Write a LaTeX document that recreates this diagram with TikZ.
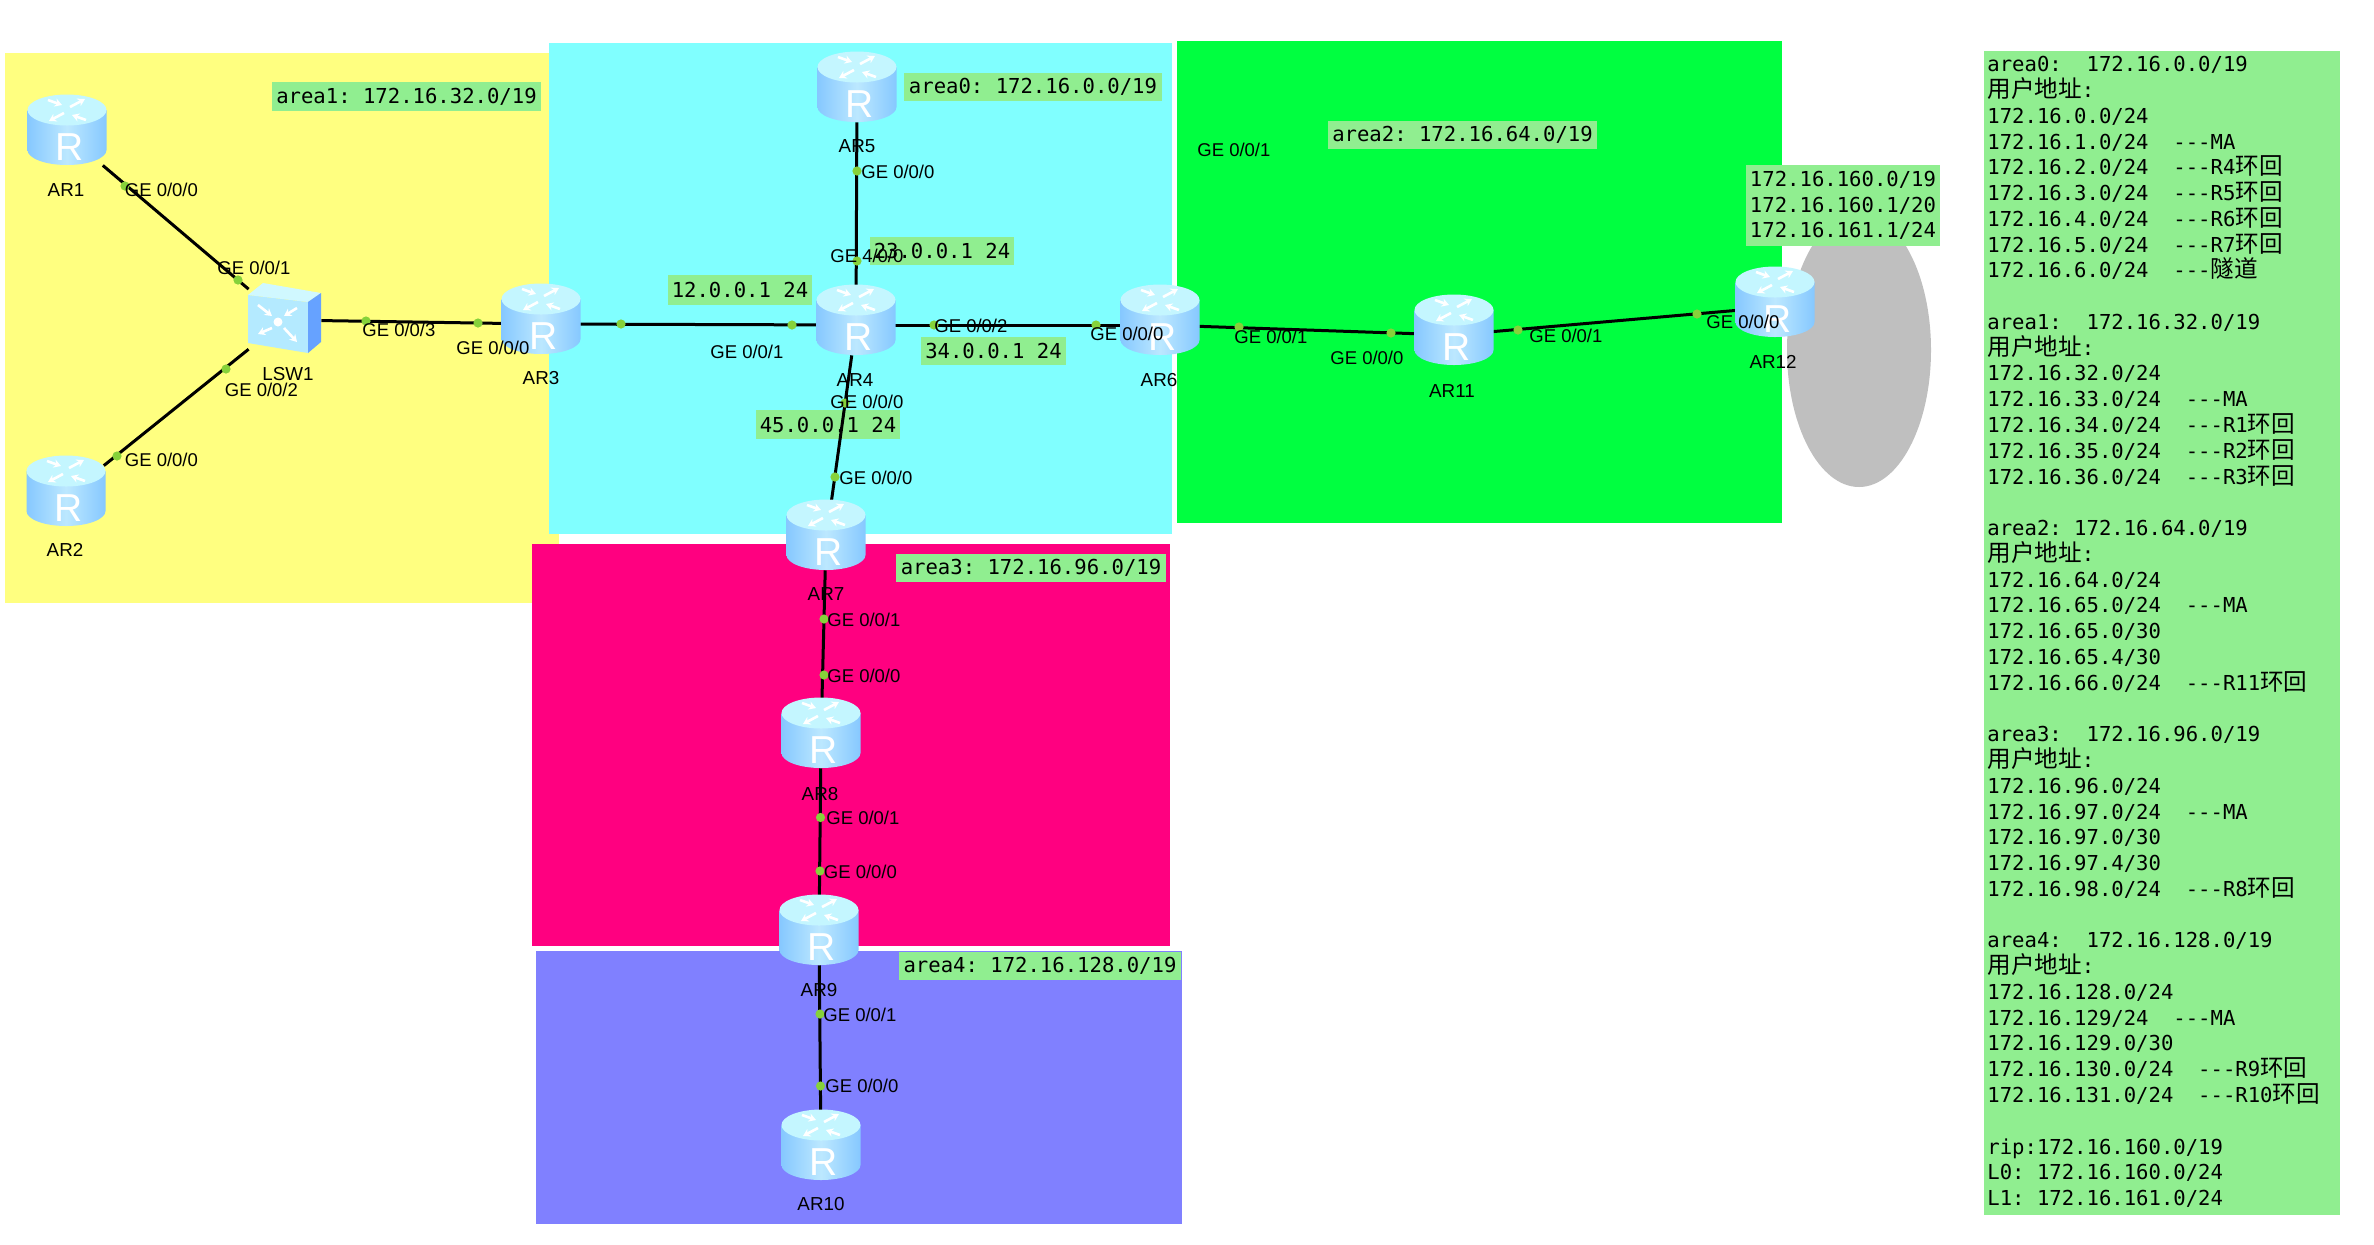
\documentclass[tikz,border=0pt]{standalone}
\usepackage{fontspec}
\usetikzlibrary{arrows.meta}
\setmainfont{Liberation Sans}
\newfontfamily\monof{DejaVu Sans Mono}
\newfontfamily\cjkf{Noto Sans CJK SC}
\newcommand{\zh}[1]{{\cjkf\fontsize{11.8}{12.885}\selectfont #1}}
\definecolor{tagc}{HTML}{90EE90}
\definecolor{areaY}{HTML}{FFFF80}
\definecolor{areaC}{HTML}{80FFFF}
\definecolor{areaP}{HTML}{FF0080}
\definecolor{areaB}{HTML}{8080FF}
\definecolor{areaG}{HTML}{00FF40}
\definecolor{portc}{HTML}{86D23A}
\definecolor{rside}{HTML}{86C8FF}
\definecolor{rmid}{HTML}{BCE8FF}
\definecolor{rtop}{HTML}{C4F6FF}
\definecolor{swfront}{HTML}{B4EAFF}
\definecolor{swtop}{HTML}{D0F8FF}
\definecolor{swside}{HTML}{66A2FF}
\tikzset{
  x=0.5pt,y=-0.5pt,
  router/.style={minimum width=39pt,minimum height=30pt,inner sep=0pt},
  switchbox/.style={minimum width=36pt,minimum height=36pt,inner sep=0pt},
  link/.style={draw=black,line width=1.5pt},
  portdot/.style={circle,fill=portc,inner sep=0pt,minimum size=4.6pt},
  iface/.style={anchor=west,inner sep=0pt,font=\fontsize{9.25}{11}\selectfont,text=black},
  devlabel/.style={inner sep=0pt,font=\fontsize{9.4}{11}\selectfont,text=black},
  tag/.style={fill=tagc,inner sep=0pt,font=\monof\fontsize{10.3}{12.75}\selectfont\frenchspacing,text=black,align=center},
  whitearrow/.style={draw=white,line width=1.3pt,-{Stealth[length=3.6pt,width=4.2pt]}},
  routerpic/.pic={
    \begin{scope}[shift={(0,-5)}]
      \shade[left color=rside,right color=rside,middle color=rmid]
        (-39.5,-20) -- (-39.5,20) .. controls (-39.5,28.3) and (-21.8,35) .. (0,35)
        .. controls (21.8,35) and (39.5,28.3) .. (39.5,20) -- (39.5,-20) -- cycle;
      \fill[rtop] (0,-20) ellipse (39.5 and 15.5);
      \draw[whitearrow] (3,-23) -- (18,-31);
      \draw[whitearrow] (-3,-17) -- (-18,-9);
      \draw[whitearrow] (-19,-30) -- (-5,-25);
      \draw[whitearrow] (19,-10) -- (5,-15);
      \node[inner sep=0pt,text=white,font=\fontsize{19.5}{19.5}\selectfont] (\n R) at (3,17) {R};
    \end{scope}
  },
}
\begin{document}
\begin{tikzpicture}
\useasboundingbox (0,0) rectangle (2374,1244);
% areas
\fill[areaY] (5,53) rectangle (559,603);
\fill[areaC] (549,43) rectangle (1172,534);
\fill[areaP] (532,544) rectangle (1170,946);
\fill[areaB] (536,951) rectangle (1182,1224);
\fill[areaG] (1177,41) rectangle (1782,523);
\fill[black!25] (1859,350) ellipse (72 and 137);
% info panel
\node[fill=tagc,inner sep=0pt,anchor=north west,minimum width=178pt,minimum height=582pt] (panel) at (1984,51) {};
\node[anchor=north west,inner sep=0pt,align=left,font=\monof\fontsize{10.3}{12.885}\selectfont\frenchspacing] (paneltext) at (1987,56) {%
\lineskiplimit=-100pt\lineskip=0pt
area0:~~172.16.0.0/19\\
\zh{用户地址}:\\
172.16.0.0/24\\
172.16.1.0/24~~---MA\\
172.16.2.0/24~~---R4\zh{环回}\\
172.16.3.0/24~~---R5\zh{环回}\\
172.16.4.0/24~~---R6\zh{环回}\\
172.16.5.0/24~~---R7\zh{环回}\\
172.16.6.0/24~~---\zh{隧道}\\
\mbox{}\\
area1:~~172.16.32.0/19\\
\zh{用户地址}:\\
172.16.32.0/24\\
172.16.33.0/24~~---MA\\
172.16.34.0/24~~---R1\zh{环回}\\
172.16.35.0/24~~---R2\zh{环回}\\
172.16.36.0/24~~---R3\zh{环回}\\
\mbox{}\\
area2:~172.16.64.0/19\\
\zh{用户地址}:\\
172.16.64.0/24\\
172.16.65.0/24~~---MA\\
172.16.65.0/30\\
172.16.65.4/30\\
172.16.66.0/24~~---R11\zh{环回}\\
\mbox{}\\
area3:~~172.16.96.0/19\\
\zh{用户地址}:\\
172.16.96.0/24\\
172.16.97.0/24~~---MA\\
172.16.97.0/30\\
172.16.97.4/30\\
172.16.98.0/24~~---R8\zh{环回}\\
\mbox{}\\
area4:~~172.16.128.0/19\\
\zh{用户地址}:\\
172.16.128.0/24\\
172.16.129/24~~---MA\\
172.16.129.0/30\\
172.16.130.0/24~~---R9\zh{环回}\\
172.16.131.0/24~~---R10\zh{环回}\\
\mbox{}\\
rip:172.16.160.0/19\\
L0:~172.16.160.0/24\\
L1:~172.16.161.0/24};
% tags
\foreach \nm/\xa/\ya/\xb/\yb/\t in {
  tagA/272/82/541/111/{area1: 172.16.32.0/19},
  tagB/904/73/1162/101/{area0: 172.16.0.0/19},
  tagC/1328/121/1597/149/{area2: 172.16.64.0/19},
  tagD/896/554/1166/582/{area3: 172.16.96.0/19},
  tagE/899/952/1181/980/{area4: 172.16.128.0/19},
  tagF/870/237/1014/265/{23.0.0.1 24},
  tagG/668/275/812/305/{12.0.0.1 24},
  tagH/921/337/1066/365/{34.0.0.1 24},
  tagI/756/410/900/439/{45.0.0.1 24}}
  \node[tag,minimum width={(\xb-\xa)*0.5pt},minimum height={(\yb-\ya)*0.5pt}] (\nm) at ({(\xa+\xb)/2},{(\ya+\yb)/2}) {\t};
\node[tag,minimum width=97pt,minimum height=40.5pt] (tagJ) at (1843,205.5) {172.16.160.0/19\\172.16.160.1/20\\172.16.161.1/24};
% device anchors
\foreach \n/\x/\y in {AR1/67/135,AR2/66/496,AR3/541/324,AR4/856/325,AR5/857/92,AR6/1160/325,
  AR7/826/540,AR8/821/738,AR9/819/935,AR10/821/1150,AR11/1454/335,AR12/1775/307}
  \node[router] (\n) at (\x,\y) {};
\node[switchbox] (LSW1) at (285,320) {};
% connectors
\draw[link] (AR1) -- (LSW1);
\draw[link] (AR2) -- (LSW1);
\draw[link] (LSW1) -- (AR3);
\draw[link] (AR3) -- (AR4);
\draw[link] (AR5) -- (AR4);
\draw[link] (AR4) -- (AR6);
\draw[link] (AR4) -- (AR7);
\draw[link] (AR7) -- (AR8);
\draw[link] (AR8) -- (AR9);
\draw[link] (AR9) -- (AR10);
\draw[link] (AR6) -- (AR11);
\draw[link] (AR11) -- (AR12);
% device icons
\foreach \n in {AR1,AR2,AR3,AR4,AR5,AR6,AR7,AR8,AR9,AR10,AR11,AR12}
  \pic at (\n) {routerpic};
% switch icon
\fill[swfront] (248,295) -- (308,302) -- (308,353) -- (248,343) -- cycle;
\fill[swtop] (248,295) -- (263,283) -- (321,293) -- (308,302) -- cycle;
\fill[swside] (308,302) -- (321,293) -- (321,342) -- (308,353) -- cycle;
\fill[white] (278,322) circle (4.5);
\draw[whitearrow] (258,305) -- (272,316);
\draw[whitearrow] (297,308) -- (284,316);
\draw[whitearrow] (272,328) -- (258,334);
\draw[whitearrow] (284,328) -- (297,342);
% port dots
\foreach \x/\y [count=\i] in {125/186,238/280,226/369,117/456,366/321,478/323,621/324,792/325,
  857/171,857/261,934/325,1096/325,845/403,835/477,824/619,824/675,820.5/817.5,820/871,820/1014,
  820.5/1086,1239/327,1391/333,1518/330,1697/314}
  \node[portdot] (port\i) at (\x,\y) {};
% interface labels
\foreach \x/\y/\t [count=\i] in {
  124.5/190/{GE 0/0/0},217/268/{GE 0/0/1},224.5/390/{GE 0/0/2},124.5/460/{GE 0/0/0},
  362/330/{GE 0/0/3},456/348/{GE 0/0/0},861/172/{GE 0/0/0},830/256/{GE 4/0/0},
  710/352/{GE 0/0/1},934/326/{GE 0/0/2},1090/334/{GE 0/0/0},830/402/{GE 0/0/0},
  839/478/{GE 0/0/0},827/620/{GE 0/0/1},827/676/{GE 0/0/0},826/818/{GE 0/0/1},
  823.5/872/{GE 0/0/0},823/1014.5/{GE 0/0/1},825/1086/{GE 0/0/0},1197/150/{GE 0/0/1},
  1234/337/{GE 0/0/1},1330/358/{GE 0/0/0},1529/336/{GE 0/0/1},1706/322/{GE 0/0/0}}
  \node[iface] (if\i) at (\x,\y) {\t};
% device labels
\foreach \n/\x/\y in {AR1/66/190,AR2/65/550,AR3/541/378,AR4/855/380,AR5/857/146,AR6/1159/380,
  AR7/826/594,AR8/820/794,AR9/819/990,AR10/821/1204,AR11/1452/391,AR12/1773/362,LSW1/288/374}
  \node[devlabel] (\n name) at (\x,\y) {\n};
\end{tikzpicture}
\end{document}
